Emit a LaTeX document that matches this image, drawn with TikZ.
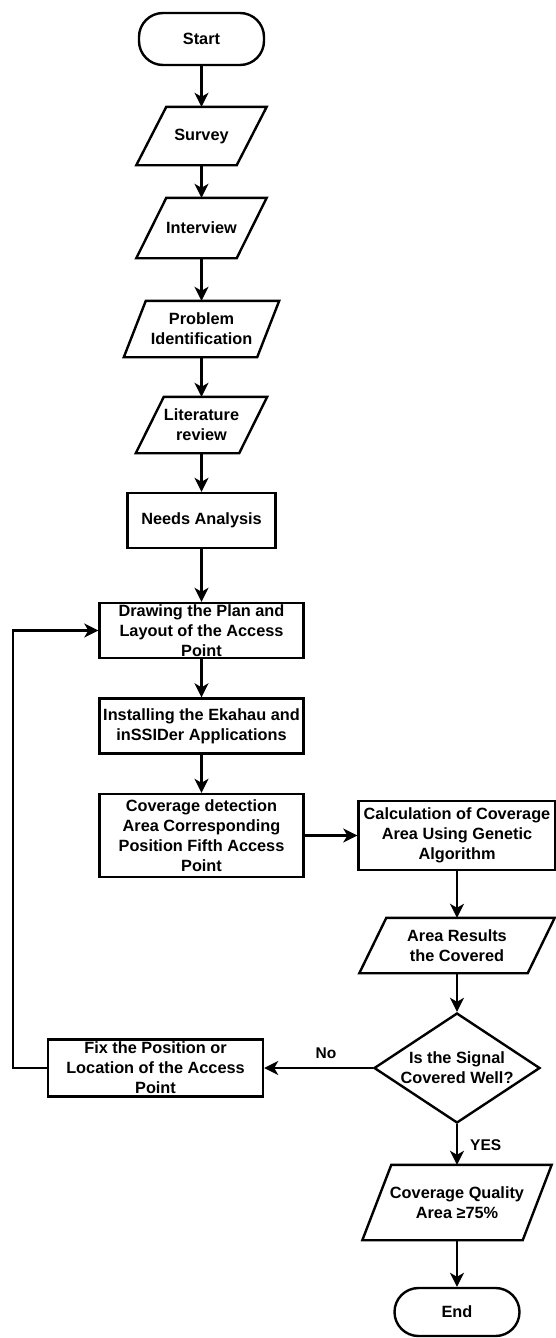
\documentclass[tikz,border=0pt]{standalone}
\usepackage{fontspec}
\setmainfont{Liberation Sans}
\usetikzlibrary{arrows.meta,shapes.geometric}
\newcommand{\paranode}[7]{%
  \node[paratext, minimum width={#4pt-#6pt}, minimum height=#5pt] (#1) at (#2,#3) {#7};
  \draw[shapeline] ([xshift=-#6pt/2]#1.south west) -- ([xshift=#6pt/2]#1.north west) -- ([xshift=#6pt/2]#1.north east) -- ([xshift=-#6pt/2]#1.south east) -- cycle;
}
\begin{document}
\begin{tikzpicture}[x=1pt,y=-1pt,
  every node/.style={font=\fontsize{16.3}{20}\selectfont\bfseries, align=center, inner sep=0pt, text=black},
  shapeline/.style={draw=black, line width=2.4pt, line join=miter},
  terminal/.style={shapeline, rectangle, rounded corners=24pt, minimum width=125pt},
  process/.style={shapeline, rectangle},
  paratext/.style={rectangle},
  decision/.style={shapeline, diamond, minimum width=166pt, minimum height=110pt},
  arrow/.style={draw=black, line width=2.4pt, -{Stealth[length=14pt,width=14pt,inset=4pt]}},
  lbl/.style={font=\fontsize{15.5}{18}\selectfont\bfseries}
]
\fill[white] (0,0) rectangle (556,1338);
\useasboundingbox (0,0) rectangle (556,1338);

% left column
\node[terminal, minimum height=52pt] (start) at (201.5,39) {Start};
\paranode{survey}{201.5}{136}{130}{58}{30}{Survey}
\paranode{interview}{201.5}{228}{130}{60}{30}{Interview}
\paranode{problem}{201.5}{329}{155}{56}{22}{Problem\\Identification}
\paranode{lit}{201.5}{425}{131}{56}{28}{Literature\\review}
\node[process, minimum width=148pt, minimum height=55pt] (needs) at (201.5,520.5) {Needs Analysis};
\node[process, minimum width=204pt, minimum height=55pt] (drawing) at (201.5,630.5) {Drawing the Plan and\\Layout of the Access\\Point};
\node[process, minimum width=204pt, minimum height=55pt] (install) at (201.5,726) {Installing the Ekahau and\\inSSIDer Applications};
\node[process, minimum width=204pt, minimum height=83pt] (coverage) at (201.5,835.5) {Coverage detection\\Area Corresponding\\Position Fifth Access\\Point};

% right column
\node[process, minimum width=197pt, minimum height=69pt] (calc) at (457,835.5) {Calculation of Coverage\\Area Using Genetic\\Algorithm};
\paranode{area}{457}{945.5}{195}{55}{27}{Area Results\\the Covered}
\node[decision] (dec) at (457,1068) {};
\node at (dec.center) {Is the Signal\\Covered Well?};
\paranode{quality}{457}{1202.5}{189}{75}{29}{Coverage Quality\\Area \char"2265 75\%}
\node[terminal, minimum height=48pt] (end) at (457,1312) {End};

% fix box
\node[process, minimum width=215pt, minimum height=57pt] (fix) at (155.5,1068) {Fix the Position or\\Location of the Access\\Point};
\coordinate (loop) at (13,1068);

% connectors
\draw[arrow] (start) -- (survey);
\draw[arrow] (survey) -- (interview);
\draw[arrow] (interview) -- (problem);
\draw[arrow] (problem) -- (lit);
\draw[arrow] (lit) -- (needs);
\draw[arrow] (needs) -- (drawing);
\draw[arrow] (drawing) -- (install);
\draw[arrow] (install) -- (coverage);
\draw[arrow] (coverage) -- (calc);
\draw[arrow] (calc) -- (area);
\draw[arrow] (area) -- (dec);
\draw[arrow] (dec) -- (fix);
\draw[arrow] (dec) -- (quality);
\draw[arrow] (quality) -- (end);
\draw[arrow] (fix.west) -- (loop) |- (drawing.west);

\node[lbl] (no) at (326,1053) {No};
\node[lbl, anchor=west] (yes) at (470,1145) {YES};
\end{tikzpicture}
\end{document}
